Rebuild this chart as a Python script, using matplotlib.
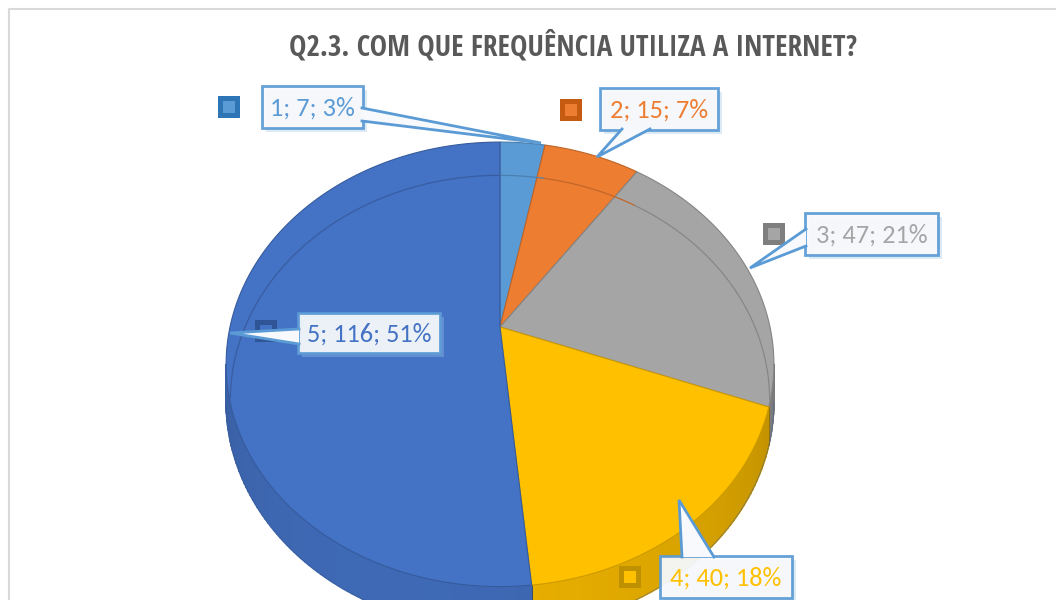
import numpy as np
import matplotlib
matplotlib.use('Agg')
import matplotlib.pyplot as plt
from matplotlib.patches import Polygon, Rectangle
from matplotlib.lines import Line2D
import matplotlib.colors as mcolors

# ---------------- data ----------------
categories = ['1', '2', '3', '4', '5']
values = [7, 15, 47, 40, 116]
percent_labels = ['3%', '7%', '21%', '18%', '51%']
title = 'Q2.3. COM QUE FREQUÊNCIA UTILIZA A INTERNET?'

top_colors = ['#5B9BD5', '#ED7D31', '#A5A5A5', '#FFC000', '#4472C4']
key_outer = ['#2E75B6', '#C55A11', '#7F7F7F', '#BF9000', '#2F5597']

# ---------------- figure ----------------
W, H = 1056, 600
fig = plt.figure(figsize=(W / 100, H / 100), dpi=100)
ax = fig.add_axes([0, 0, 1, 1])
ax.set_xlim(0, W)
ax.set_ylim(H, 0)
ax.axis('off')

# chart border (top + left visible)
ax.add_line(Line2D([9, 9, W], [H, 9, 9], color='#D9D9D9', lw=1.5, zorder=0))

# perspective pie geometry
CX, CY, RX, RY, K, T = 500, 327, 270, 216, 0.168, 36


def proj(theta_deg, r=1.0, z=0.0):
    t = np.radians(theta_deg)
    u = r * np.sin(t)
    v = r * np.cos(t)
    s = 1.0 / (1.0 + K * v)
    return CX + RX * u * s, CY - RY * v * s + T * z * s


def shade(c, f):
    rgb = np.array(mcolors.to_rgb(c))
    return tuple(np.clip(rgb * f, 0, 1))


total = sum(values)
bounds = np.concatenate([[0], np.cumsum(values)]) / total * 360.0

# silhouette of outer wall
a_vis0 = np.degrees(np.arccos(-K))
a_vis1 = 360 - a_vis0

# side walls
for i, c in enumerate(top_colors):
    a0, a1 = max(bounds[i], a_vis0), min(bounds[i + 1], a_vis1)
    if a1 <= a0:
        continue
    n = max(2, int((a1 - a0) / 1.0))
    angs = np.linspace(a0, a1, n + 1)
    for j in range(n):
        aa = np.linspace(angs[j], angs[j + 1], 3)
        top = [proj(a, 1, 0) for a in aa]
        bot = [proj(a, 1, 1) for a in aa[::-1]]
        mid = 0.5 * (angs[j] + angs[j + 1])
        f = 0.76 + 0.16 * np.cos(np.radians(mid - 200))
        ax.add_patch(Polygon(top + bot, closed=True, facecolor=shade(c, f),
                             edgecolor=shade(c, f), lw=1.2, zorder=2,
                             joinstyle='round'))
    # slice separation line on the side
    for a in (bounds[i], bounds[i + 1]):
        if a_vis0 <= a <= a_vis1:
            p0, p1 = proj(a, 1, 0), proj(a, 1, 1)
            ax.add_line(Line2D([p0[0], p1[0]], [p0[1], p1[1]],
                               color=shade(c, 0.6), lw=0.6, zorder=2.5))
# bottom outline of side
bb = np.array([proj(a, 1, 1) for a in np.linspace(a_vis0, a_vis1, 300)])
ax.plot(bb[:, 0], bb[:, 1], color='#3A5A94', lw=0.6, alpha=0.5, zorder=2.6)

# top faces
for i, c in enumerate(top_colors):
    angs = np.linspace(bounds[i], bounds[i + 1], 200)
    pts = [proj(0, 0, 0)] + [proj(a) for a in angs]
    ax.add_patch(Polygon(pts, closed=True, facecolor=c,
                         edgecolor=shade(c, 0.8), lw=0.8, zorder=3))
    # faint back outline (seen through)
    back = np.array([a for a in angs if a < a_vis0 or a > a_vis1])
    if len(back) > 1:
        for seg_angs in (back[back < a_vis0], back[back > a_vis1]):
            if len(seg_angs) > 1:
                seg = np.array([proj(a, 0.985, 1) for a in seg_angs])
                ax.plot(seg[:, 0], seg[:, 1], color=shade(c, 0.82),
                        lw=0.9, zorder=3.5)

# ---------------- callouts ----------------
label_font = ['Carlito', 'DejaVu Sans']
boxes = [(262, 86, 363, 128), (600, 88, 718, 130), (805, 213, 938, 255),
         (660, 556, 792, 598), (298, 313, 440, 353)]
bases = [((362, 108), (362, 121)), ((622, 129), (650, 129)),
         ((806, 229), (806, 246)), ((682, 557), (714, 557)),
         ((299, 329), (299, 344))]
tips = [(541, 143), (597, 157), (750, 268), (679, 500), (230, 333)]
keys = [(229, 107), (571, 110), (774, 234), (630, 577), (266, 331)]

for i in range(len(values)):
    x0, y0, x1, y1 = boxes[i]
    # legend key
    kx, ky = keys[i]
    ax.add_patch(Rectangle((kx - 11, ky - 11), 22, 22, facecolor=key_outer[i],
                           edgecolor='none', zorder=5))
    ax.add_patch(Rectangle((kx - 6, ky - 6), 12, 12, facecolor=top_colors[i],
                           edgecolor='none', zorder=5.1))
    # shadow
    ax.add_patch(Rectangle((x0 + 4, y0 + 4), x1 - x0, y1 - y0,
                           facecolor='#9DC3E6', alpha=0.35, edgecolor='none',
                           zorder=5.5))
    # box
    ax.add_patch(Rectangle((x0, y0), x1 - x0, y1 - y0, facecolor='#F7F9FC',
                           alpha=0.93, edgecolor='#5B9BD5', lw=2, zorder=6))
    # pointer
    (bx0, by0), (bx1, by1) = bases[i]
    tx, ty = tips[i]
    ax.add_patch(Polygon([(bx0, by0), (bx1, by1), (tx, ty)], closed=True,
                         facecolor='#F7F9FC', edgecolor='none', zorder=6.2))
    ax.add_line(Line2D([bx0, tx, bx1], [by0, ty, by1], color='#5B9BD5',
                       lw=2, zorder=6.3, solid_joinstyle='miter'))
    txt = f'{categories[i]}; {values[i]}; {percent_labels[i]}'
    ax.text((x0 + x1) / 2, (y0 + y1) / 2 + 1, txt, ha='center', va='center',
            fontsize=19, color=top_colors[i], family=label_font, zorder=7)

# ---------------- title ----------------
ax.text(573, 47, title, ha='center', va='center', fontsize=21,
        fontweight='bold', color='#595959',
        family=['Open Sans Condensed', 'DejaVu Sans'], zorder=7)

fig.savefig('out.png', dpi=100)
